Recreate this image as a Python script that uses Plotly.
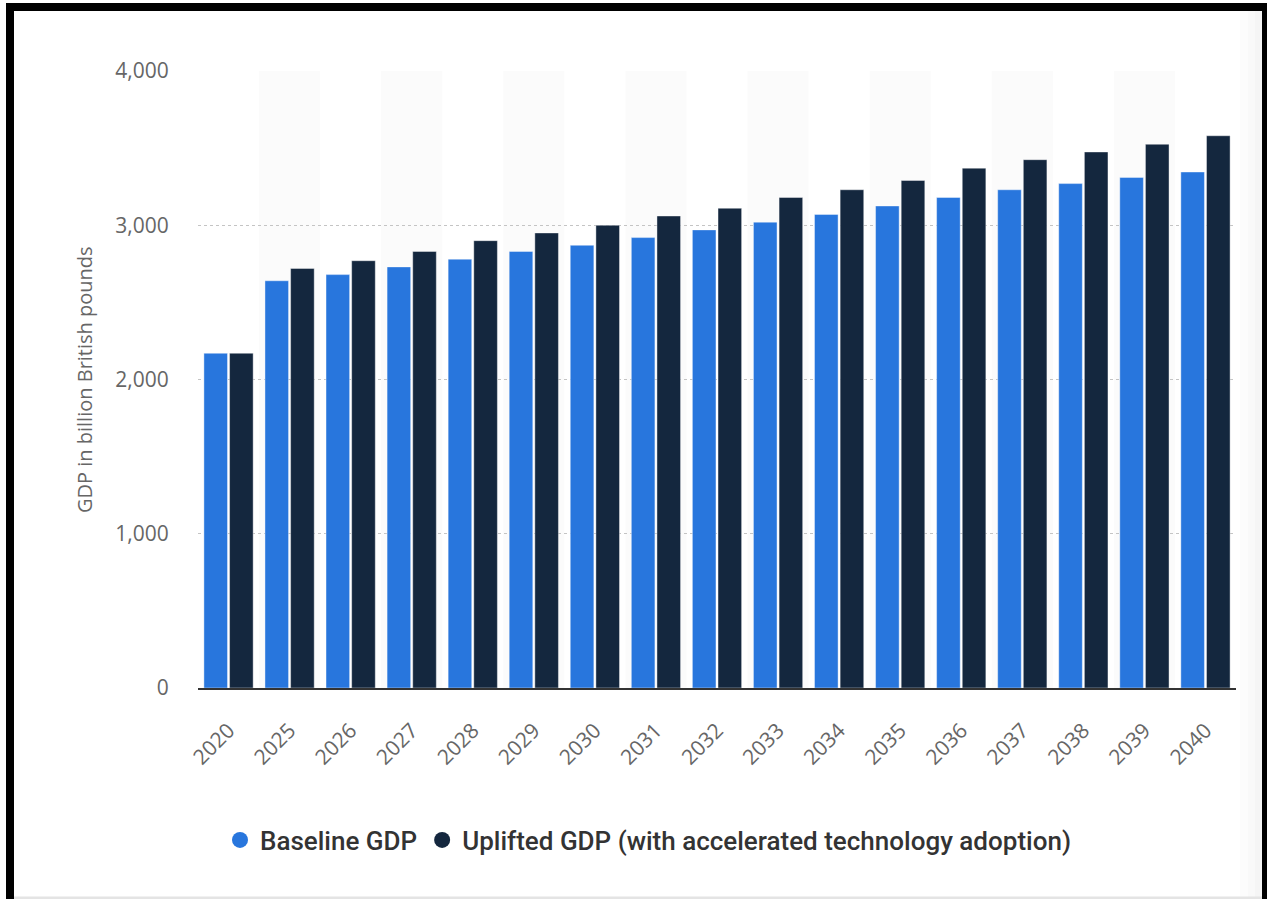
import plotly.graph_objects as go

years = ["2020", "2025", "2026", "2027", "2028", "2029", "2030", "2031", "2032",
         "2033", "2034", "2035", "2036", "2037", "2038", "2039", "2040"]
baseline_gdp = [2170, 2640, 2680, 2730, 2780, 2830, 2870, 2920, 2970,
                3020, 3070, 3125, 3180, 3230, 3270, 3310, 3345]
uplifted_gdp = [2170, 2720, 2770, 2830, 2900, 2950, 3000, 3060, 3110,
                3180, 3230, 3290, 3370, 3425, 3475, 3525, 3580]
series_names = ["Baseline GDP", "Uplifted GDP (with accelerated technology adoption)"]
series_colors = ["#2876dd", "#14273e"]
y_ticks = [0, 1000, 2000, 3000, 4000]
y_title = "GDP in billion British pounds"

W, H = 1267, 899
L, R, T, B = 198, 1236, 71, 688

def px(x):
    return (x - L) / (R - L)

def py(y):
    return (B - y) / (B - T)

fig = go.Figure()
for name, vals, col in zip(series_names, [baseline_gdp, uplifted_gdp], series_colors):
    fig.add_trace(go.Bar(
        x=years, y=vals, name=name, showlegend=False,
        marker=dict(color=col, line=dict(color="rgba(255,255,255,0.4)", width=1)),
        hovertemplate="%{x}: %{y:,}<extra>" + name + "</extra>",
    ))
for name, col in zip(series_names, series_colors):
    fig.add_trace(go.Scatter(
        x=[None], y=[None], mode="markers", name=name,
        marker=dict(color=col, size=22, symbol="circle"),
    ))

shapes = []
# alternating category bands
for i in range(len(years)):
    if i % 2 == 1:
        shapes.append(dict(type="rect", xref="x", yref="y", x0=i - 0.5, x1=i + 0.5,
                           y0=0, y1=4000, fillcolor="#fbfbfb", line=dict(width=0),
                           layer="below"))
# right-edge soft shading
for x0, c in [(1240, "#fcfcfc"), (1248, "#f9f9f9"), (1255, "#f5f5f5")]:
    shapes.append(dict(type="rect", xref="paper", yref="paper", x0=px(x0), x1=px(1262),
                       y0=py(898), y1=py(11), fillcolor=c, line=dict(width=0),
                       layer="below"))
# bottom grey line
shapes.append(dict(type="rect", xref="paper", yref="paper", x0=px(14), x1=px(1262),
                   y0=py(899), y1=py(896.5), fillcolor="#e4e4e4", line=dict(width=0),
                   layer="above"))
# black frame
for (x0, x1, y0, y1) in [(6, 14, 3, 899), (6, 1267, 3, 11), (1262, 1267, 3, 899)]:
    shapes.append(dict(type="rect", xref="paper", yref="paper", x0=px(x0), x1=px(x1),
                       y0=py(y1), y1=py(y0), fillcolor="#000000", line=dict(width=0),
                       layer="above"))

fig.update_layout(
    width=W, height=H,
    margin=dict(l=L, r=W - R, t=T, b=H - B, autoexpand=False),
    paper_bgcolor="white", plot_bgcolor="white",
    barmode="group", bargap=0.16, bargroupgap=0.08,
    font=dict(family="Open Sans, DejaVu Sans, sans-serif", color="#666666"),
    shapes=shapes,
    showlegend=True,
    legend=dict(orientation="h", x=px(220), xanchor="left", y=py(840), yanchor="middle",
                font=dict(family="Roboto, sans-serif", size=26, color="#333333", weight=500),
                itemsizing="trace", bgcolor="rgba(0,0,0,0)", tracegroupgap=0),
    annotations=[dict(text=y_title, xref="paper", yref="paper", x=px(84), y=py(380),
                      xanchor="center", yanchor="middle", textangle=-90, showarrow=False,
                      font=dict(family="Open Sans, sans-serif", size=20, color="#666666"))],
    hovermode="closest",
)
fig.update_xaxes(
    type="category", showgrid=False, showline=True, linecolor="#333333", linewidth=2,
    tickangle=-45, ticks="outside", ticklen=20, tickcolor="rgba(0,0,0,0)",
    tickfont=dict(size=21, color="#666666"), automargin=False,
)
fig.update_yaxes(
    range=[0, 4000], tickvals=y_ticks, tickformat=",", showgrid=True,
    gridcolor="#c4c4c4", griddash="dot", gridwidth=1, zeroline=False, showline=False,
    ticks="outside", ticklen=24, tickcolor="rgba(0,0,0,0)",
    tickfont=dict(size=21, color="#666666"), automargin=False,
)

fig.write_html("out.html")
